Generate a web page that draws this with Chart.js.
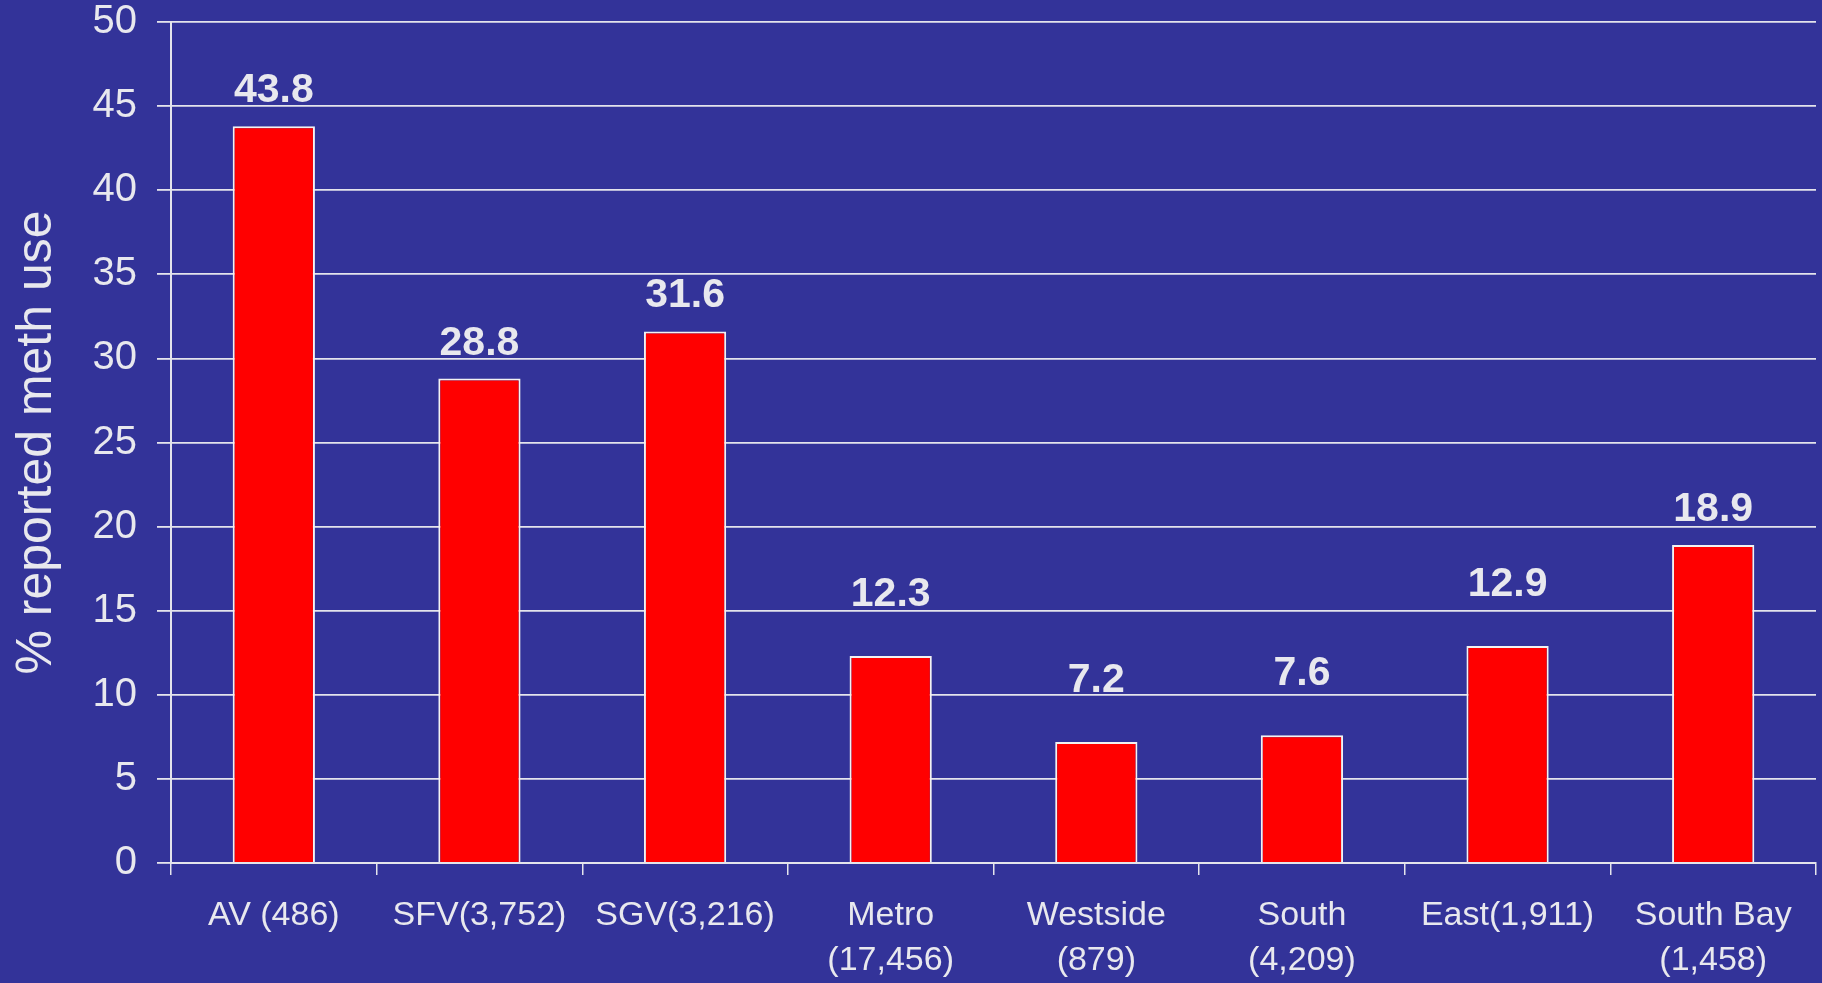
<!DOCTYPE html>
<html>
<head>
<meta charset="utf-8">
<script src="https://cdn.jsdelivr.net/npm/chart.js@4.4.1/dist/chart.umd.min.js"></script>
<style>
    html, body { margin: 0; padding: 0; background: #333399; overflow: hidden; }
    canvas { display: block; }
</style>
</head>
<body>
<canvas id="methChart" width="1822" height="983"></canvas>
<script>
// Data
const regions = [
    ['AV (486)'],
    ['SFV(3,752)'],
    ['SGV(3,216)'],
    ['Metro', '(17,456)'],
    ['Westside', '(879)'],
    ['South', '(4,209)'],
    ['East(1,911)'],
    ['South Bay', '(1,458)']
];
const methUse = [43.8, 28.8, 31.6, 12.3, 7.2, 7.6, 12.9, 18.9];
const yTicks = [0, 5, 10, 15, 20, 25, 30, 35, 40, 45, 50];

const textColor = '#E8E8EE';
const gridColor = '#E4E4EC';
const fontFamily = '"Liberation Sans", Arial, sans-serif';

// Draws the value above each bar (short bars get their label lifted a bit more)
const valueLabels = {
    id: 'valueLabels',
    afterDatasetsDraw(chart) {
        const ctx = chart.ctx;
        const meta = chart.getDatasetMeta(0);
        ctx.save();
        ctx.fillStyle = textColor;
        ctx.font = 'bold 41px ' + fontFamily;
        ctx.textAlign = 'center';
        ctx.textBaseline = 'alphabetic';
        meta.data.forEach((bar, i) => {
            const lift = methUse[i] < 15 ? 50 : 24;
            ctx.fillText(methUse[i].toFixed(1), bar.x, bar.y - lift);
        });
        ctx.restore();
    }
};

const ctx = document.getElementById('methChart').getContext('2d');
new Chart(ctx, {
    type: 'bar',
    data: {
        labels: regions,
        datasets: [{
            data: methUse,
            backgroundColor: '#FF0000',
            borderColor: '#F2F2F2',
            borderWidth: 2,
            borderSkipped: 'start',
            barPercentage: 0.4,
            categoryPercentage: 1.0
        }]
    },
    options: {
        responsive: false,
        animation: false,
        layout: { padding: { top: 22, right: 6, left: 0, bottom: 0 } },
        plugins: {
            legend: { display: false },
            tooltip: { enabled: false },
            title: { display: false }
        },
        scales: {
            x: {
                grid: {
                    display: true,
                    drawOnChartArea: false,
                    drawTicks: true,
                    tickLength: 12,
                    tickColor: gridColor,
                    lineWidth: 1.5,
                    offset: true
                },
                border: { display: true, color: gridColor, width: 2 },
                ticks: {
                    color: textColor,
                    font: { family: fontFamily, size: 34, lineHeight: 1.32 },
                    padding: 18,
                    autoSkip: false,
                    maxRotation: 0,
                    minRotation: 0
                },
                afterFit(scale) {
                    scale.height = 120;
                    scale.paddingLeft = 0;
                    scale.paddingRight = 0;
                }
            },
            y: {
                min: 0,
                max: 50,
                afterBuildTicks(scale) {
                    scale.ticks = yTicks.map(v => ({ value: v }));
                },
                grid: {
                    color: gridColor,
                    lineWidth: 1.8,
                    drawTicks: true,
                    tickLength: 14
                },
                border: { display: true, color: gridColor, width: 2 },
                ticks: {
                    color: textColor,
                    font: { family: fontFamily, size: 40 },
                    padding: 20
                },
                title: {
                    display: true,
                    text: '% reported meth use',
                    color: textColor,
                    font: { family: fontFamily, size: 50 },
                    padding: { top: 7, bottom: 0 }
                },
                afterFit(scale) {
                    scale.width = 171;
                    scale.paddingTop = 0;
                    scale.paddingBottom = 0;
                }
            }
        }
    },
    plugins: [valueLabels]
});
</script>
</body>
</html>
